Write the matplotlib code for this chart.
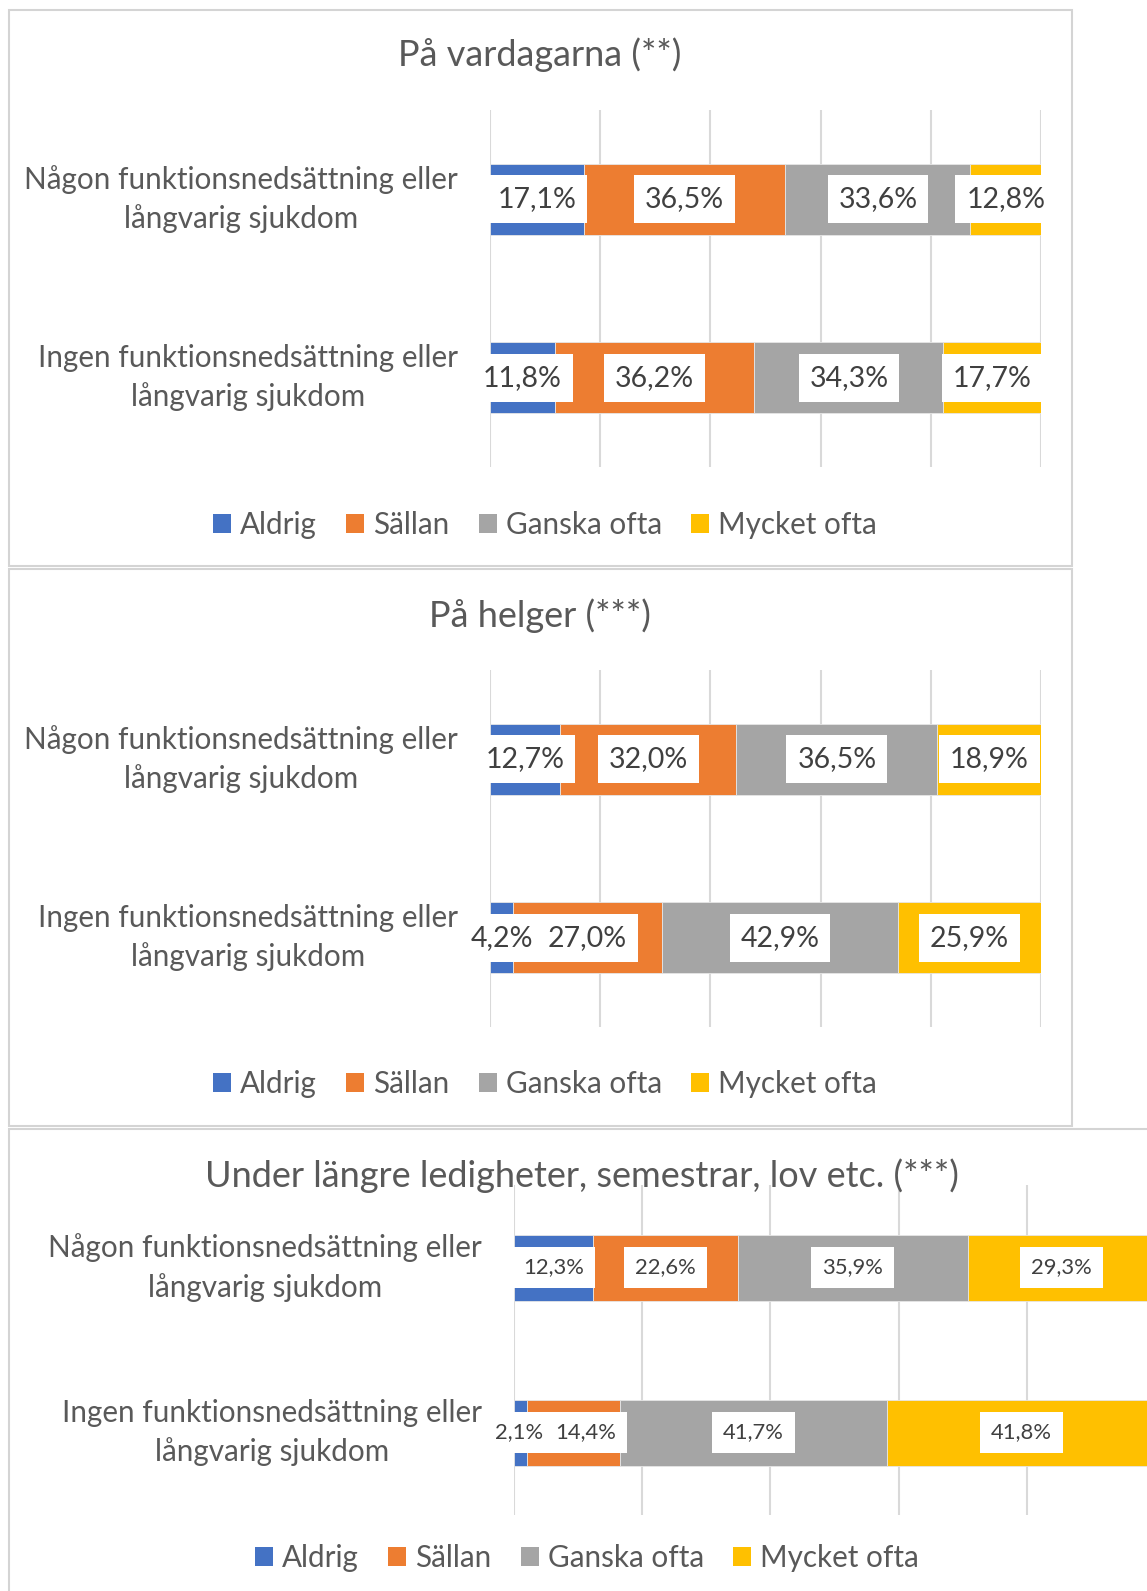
import matplotlib
matplotlib.use('Agg')
import matplotlib.pyplot as plt
from matplotlib.patches import Rectangle, Patch

plt.rcParams['font.family'] = ['Lato', 'DejaVu Sans']

W, H = 1147, 1591

series = ['Aldrig', 'Sällan', 'Ganska ofta', 'Mycket ofta']
colors = ['#4472C4', '#ED7D31', '#A5A5A5', '#FFC000']
groups = ['Någon funktionsnedsättning eller\nlångvarig sjukdom',
          'Ingen funktionsnedsättning eller\nlångvarig sjukdom']

titles = ['På vardagarna (**)', 'På helger (***)',
          'Under längre ledigheter, semestrar, lov etc. (***)']

vardag_nagon = [17.1, 36.5, 33.6, 12.8]
vardag_ingen = [11.8, 36.2, 34.3, 17.7]
helg_nagon = [12.7, 32.0, 36.5, 18.9]
helg_ingen = [4.2, 27.0, 42.9, 25.9]
lov_nagon = [12.3, 22.6, 35.9, 29.3]
lov_ingen = [2.1, 14.4, 41.7, 41.8]

panels_data = [(vardag_nagon, vardag_ingen),
               (helg_nagon, helg_ingen),
               (lov_nagon, lov_ingen)]

# layout in pixels: (left, right, top, bottom) of plot area
plot_boxes = [(490, 1041, 110, 467), (490, 1041, 670, 1027), (514, 1155, 1185, 1515)]
frames = [(9, 1072, 10, 566), (9, 1072, 569, 1126), (9, 1160, 1129, 1600)]
title_pos = [(540, 55), (540, 616), (582, 1176)]
label_right = [458, 458, 482]
legend_pos = [(545, 525), (545, 1084), (587, 1558)]
label_size = [20.5, 20.5, 15.8]
label_pad = [0.38, 0.38, 0.5]
# excel pushes a few overlapping labels sideways (panel, group, series): shift in %
label_nudge = {(2, 1, 0): -0.2, (2, 1, 1): 1.8}

fig = plt.figure(figsize=(W / 100, H / 100), dpi=100)
fig.patch.set_facecolor('white')


def fx(px):
    return px / W


def fy(py):
    return 1 - py / H


for i in range(3):
    l, r, t, b = frames[i]
    fig.patches.append(Rectangle((fx(l), fy(b)), fx(r - l), (b - t) / H,
                                 transform=fig.transFigure, fill=False,
                                 edgecolor='#d4d4d4', linewidth=1.5))

    l, r, t, b = plot_boxes[i]
    ax = fig.add_axes([fx(l), fy(b), fx(r - l), (b - t) / H])
    ax.set_xlim(0, 100)
    ax.set_ylim(1.5, -0.5)
    for s in ax.spines.values():
        s.set_visible(False)
    ax.set_xticks([0, 20, 40, 60, 80, 100])
    ax.set_yticks([])
    ax.tick_params(axis='x', length=0, labelbottom=False)
    ax.grid(axis='x', color='#d9d9d9', linewidth=1.5)
    ax.set_axisbelow(True)

    for gi, vals in enumerate(panels_data[i]):
        left = 0
        for si, v in enumerate(vals):
            ax.barh(gi, v, left=left, height=0.4, color=colors[si],
                    edgecolor='#e6e6e6', linewidth=0.6)
            txt = f"{v:.1f}".replace('.', ',') + '%'
            xc = left + v / 2 + label_nudge.get((i, gi, si), 0)
            ax.text(xc, gi, txt, ha='center', va='center',
                    fontsize=label_size[i], color='#404040',
                    bbox=dict(boxstyle=f'square,pad={label_pad[i]}', fc='white', ec='none'))
            left += v

    for gi, g in enumerate(groups):
        cy = ax.transData.transform((0, gi))[1]
        fig.text(fx(label_right[i]), cy / fig.dpi / fig.get_figheight(), g,
                 ha='right', va='center', multialignment='center',
                 fontsize=21.3, color='#595959', linespacing=1.43)

    tx, ty = title_pos[i]
    fig.text(fx(tx), fy(ty), titles[i], ha='center', va='center',
             fontsize=26, color='#595959')

    handles = [Patch(facecolor=c, edgecolor='none', label=s) for c, s in zip(colors, series)]
    lx, ly = legend_pos[i]
    leg = fig.legend(handles=handles, loc='center', bbox_to_anchor=(fx(lx), fy(ly)),
                     ncol=4, frameon=False, fontsize=21.3, handlelength=0.6,
                     handleheight=0.6, handletextpad=0.3, columnspacing=1.0)
    for t in leg.get_texts():
        t.set_color('#595959')

fig.savefig('out.png', dpi=100, facecolor='white')
